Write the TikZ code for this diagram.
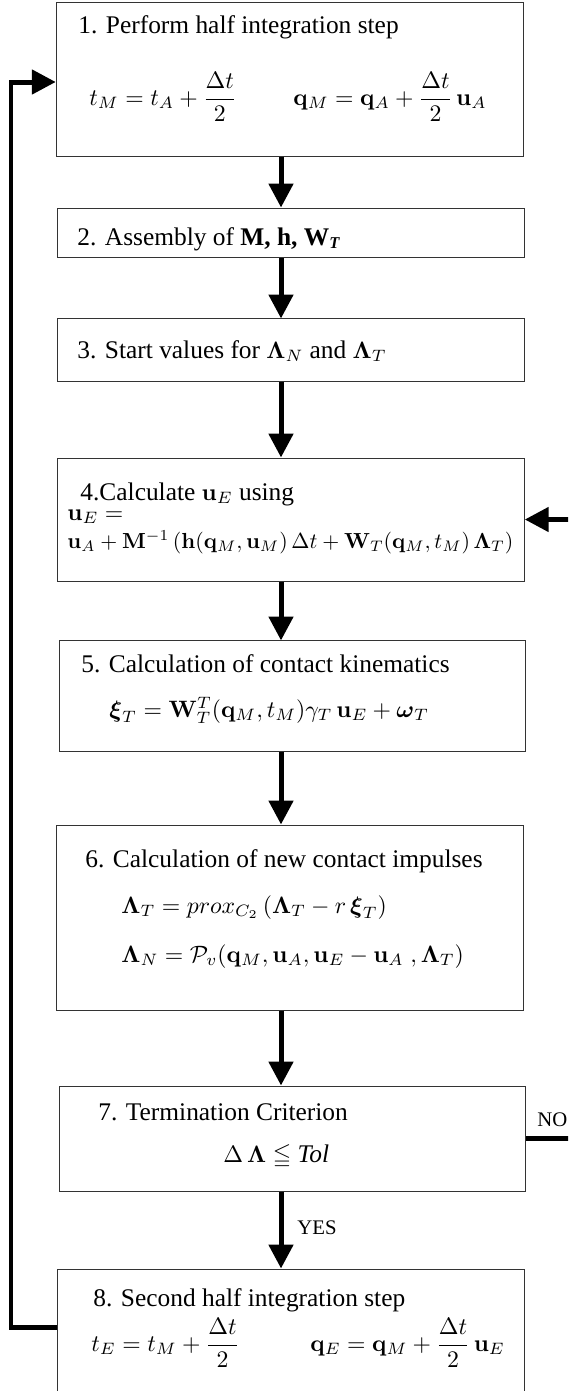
\RequirePackage{fix-cm}
\documentclass[tikz,border=0pt]{standalone}
\usepackage{amsmath,amssymb}
\usepackage[no-math]{fontspec}
\setmainfont{Liberation Serif}
\usetikzlibrary{arrows.meta,calc}
\DeclareMathSizes{12}{11.2}{7.8}{5.6}
\DeclareMathSizes{11}{10.3}{7.2}{5.2}

\begin{document}
\begin{tikzpicture}[
  x=0.4724pt, y=-0.4724pt,
  >={Triangle[length=11.3pt,width=11.3pt]},
  boite/.style={draw=black!80, line width=0.47pt, minimum width=220.6pt, inner sep=0pt},
  fleche/.style={line width=2.36pt,->},
  texte/.style={anchor=base west, inner sep=0pt, font=\fontsize{12}{14}\selectfont},
  etiq/.style={anchor=base west, inner sep=0pt, font=\fontsize{9.8}{12}\selectfont},
]
  \useasboundingbox (0,0) rectangle (568,1391);
  \clip (0,0) rectangle (568,1391);

  % Boites
  \node[boite, minimum height=72.3pt] (b1) at (289.75,79.5)  {};
  \node[boite, minimum height=23.6pt] (b2) at (290.8,233)    {};
  \node[boite, minimum height=29.3pt] (b3) at (291,350)      {};
  \node[boite, minimum height=58.1pt] (b4) at (290.8,519.5)  {};
  \node[boite, minimum height=52pt]   (b5) at (292.5,696)    {};
  \node[boite, minimum height=87.4pt] (b6) at (289.75,917.5) {};
  \node[boite, minimum height=49.6pt] (b7) at (292.5,1138.5) {};
  \node[boite, minimum height=66.6pt] (b8) at (290.8,1339.5) {};

  % Textes
  \node[texte] (t1)  at (78,33)   {1. Perform half integration step};
  \node[texte] (f1a) at (89,105)  {$t_M = t_A + \dfrac{\Delta t}{2}$};
  \node[texte] (f1b) at (293,105) {$\mathbf{q}_M = \mathbf{q}_A + \dfrac{\Delta t}{2}\,\mathbf{u}_A$};

  \node[texte] (t2) at (77,245) {2. Assembly of \textbf{M, h, W}\textsubscript{\textbf{\textit{T}}}};

  \node[texte] (t3) at (77,358) {3. Start values for $\boldsymbol{\Lambda}_N$ and $\boldsymbol{\Lambda}_T$};

  \node[texte] (t4)  at (80,500) {4.Calculate $\mathbf{u}_E$ using};
  \node[texte] (f4a) at (67,520) {$\mathbf{u}_E =$};
  \node[texte, font=\fontsize{11}{13}\selectfont] (f4b) at (67,548)
    {$\mathbf{u}_A + \mathbf{M}^{-1}\,(\mathbf{h}(\mathbf{q}_M,\mathbf{u}_M)\,\Delta t + \mathbf{W}_T(\mathbf{q}_M,t_M)\,\boldsymbol{\Lambda}_T)$};

  \node[texte] (t5) at (81,672)  {5. Calculation of contact kinematics};
  \node[texte] (f5) at (109,717) {$\boldsymbol{\xi}_T = \mathbf{W}_T^T(\mathbf{q}_M,t_M)\gamma_T\,\mathbf{u}_E + \boldsymbol{\omega}_T$};

  \node[texte] (t6)  at (85,867)  {6. Calculation of new contact impulses};
  \node[texte] (f6a) at (121,913) {$\boldsymbol{\Lambda}_T = prox_{C_2}\,(\boldsymbol{\Lambda}_T - r\,\boldsymbol{\xi}_T)$};
  \node[texte] (f6b) at (121,962) {$\boldsymbol{\Lambda}_N = \mathcal{P}_v(\mathbf{q}_M,\mathbf{u}_A,\mathbf{u}_E - \mathbf{u}_A\;,\boldsymbol{\Lambda}_T)$};

  \node[texte] (t7) at (98,1120) {7. Termination Criterion};
  \node[texte] (f7) at (223,1162) {$\Delta\,\boldsymbol{\Lambda} \leqq$ \textit{Tol}};

  \node[texte] (t8)  at (93,1306)  {8. Second half integration step};
  \node[texte] (f8a) at (91,1351)  {$t_E = t_M + \dfrac{\Delta t}{2}$};
  \node[texte] (f8b) at (310,1351) {$\mathbf{q}_E = \mathbf{q}_M + \dfrac{\Delta t}{2}\,\mathbf{u}_E$};

  % Etiquettes
  \node[etiq] (oui) at (297,1234) {YES};
  \node[etiq] (non) at (537,1126) {NO};

  % Fleches
  \coordinate (col)     at (281,0);
  \coordinate (gauche)  at (11,0);
  \coordinate (droite)  at (600,0);
  \coordinate (sortie8) at ($(b8.west)+(0,-12.5)$);
  \coordinate (entree1) at ($(b1.west)+(0,2.5)$);

  \foreach \a/\b in {b1/b2,b2/b3,b3/b4,b4/b5,b5/b6,b6/b7,b7/b8}
    \draw[fleche] (\a.south -| col) -- (\b.north -| col);

  \draw[fleche] (sortie8) -- (sortie8 -| gauche) |- (entree1);
  \draw[fleche] (b7.east) -- (b7.east -| droite) |- (b4.east);
\end{tikzpicture}
\end{document}
